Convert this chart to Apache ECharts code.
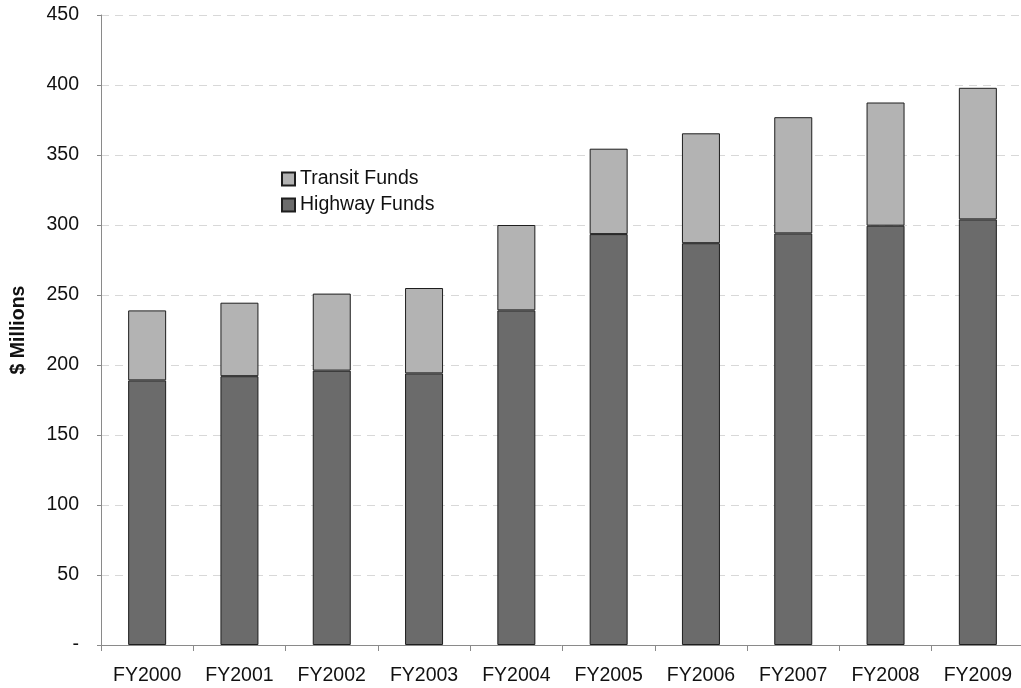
<!DOCTYPE html>
<html>
<head>
<meta charset="utf-8">
<style>
  html, body { margin: 0; padding: 0; background: #fff; }
  #chart { width: 1021px; height: 688px; }
</style>
<script src="https://cdn.jsdelivr.net/npm/echarts@6/dist/echarts.min.js"></script>
</head>
<body>
<div id="chart"></div>
<script>
// Fiscal years on the category axis
const years = ['FY2000', 'FY2001', 'FY2002', 'FY2003', 'FY2004', 'FY2005', 'FY2006', 'FY2007', 'FY2008', 'FY2009'];
// Funding in $ millions, stacked: highway at the bottom, transit on top
const highwayFunds = [189, 192, 196, 194, 239, 293.5, 287, 294, 299.5, 304];
const transitFunds = [50, 52.5, 55, 61, 61, 61, 78.5, 83, 88, 94];
// Value axis range and step
const yMin = 0, yMax = 450, yStep = 50;

const FONT = '"Liberation Sans", Arial, Helvetica, sans-serif';
const chart = echarts.init(document.getElementById('chart'));

chart.setOption({
  animation: false,
  textStyle: { fontFamily: FONT },
  grid: {
    left: 101, top: 15, width: 923, height: 630,
    containLabel: false, outerBoundsMode: 'none'
  },
  legend: {
    orient: 'vertical',
    left: 276,
    top: 164,
    itemWidth: 13,
    itemHeight: 13,
    itemGap: 6,
    icon: 'rect',
    data: ['Transit Funds', 'Highway Funds'],
    textStyle: { fontSize: 19.5, color: '#111', fontFamily: FONT, padding: [0, 0, 0, 0] }
  },
  xAxis: {
    type: 'category',
    data: years,
    axisLine: { lineStyle: { color: '#8a8a8a', width: 1 } },
    axisTick: { show: true, length: 6, lineStyle: { color: '#8a8a8a' } },
    axisLabel: { fontSize: 19.5, color: '#111', margin: 21, fontFamily: FONT }
  },
  yAxis: {
    type: 'value',
    min: yMin,
    max: yMax,
    interval: yStep,
    name: '$ Millions',
    nameLocation: 'middle',
    nameGap: 72,
    nameRotate: 90,
    nameTextStyle: { fontSize: 19.5, fontWeight: 'bold', color: '#111', fontFamily: FONT },
    axisLine: { show: true, lineStyle: { color: '#8a8a8a', width: 1 } },
    axisTick: { show: true, length: 4, lineStyle: { color: '#8a8a8a' } },
    axisLabel: {
      fontSize: 19.5, color: '#111', margin: 22, fontFamily: FONT,
      formatter: v => (v === 0 ? '-' : String(v))
    },
    splitLine: { show: true, lineStyle: { color: '#d8d8d8', type: [8, 6], width: 1 } }
  },
  series: [
    {
      name: 'Highway Funds',
      type: 'bar',
      stack: 'funds',
      barWidth: 38,
      data: highwayFunds,
      itemStyle: { color: '#6b6b6b', borderColor: '#1e1e1e', borderWidth: 1 }
    },
    {
      name: 'Transit Funds',
      type: 'bar',
      stack: 'funds',
      barWidth: 38,
      data: transitFunds,
      itemStyle: { color: '#b3b3b3', borderColor: '#1e1e1e', borderWidth: 1 }
    }
  ]
});
</script>
</body>
</html>
